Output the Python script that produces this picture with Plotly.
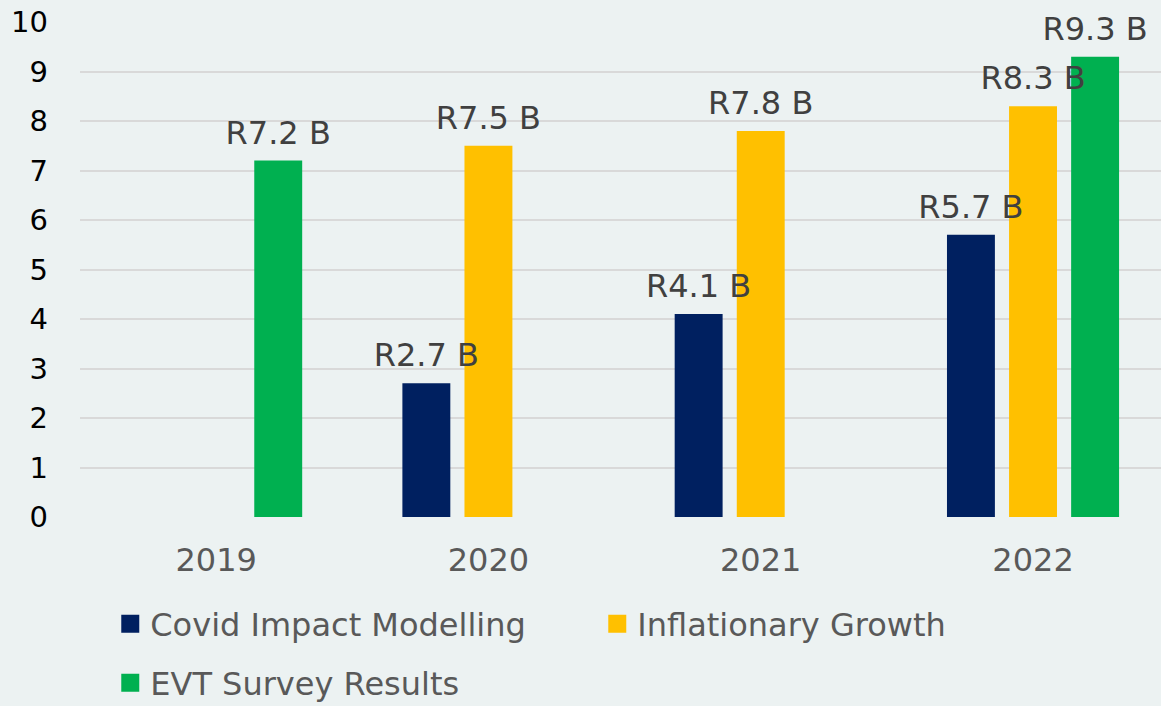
import plotly.graph_objects as go

years = ["2019", "2020", "2021", "2022"]
covid = [None, 2.7, 4.1, 5.7]
inflation = [None, 7.5, 7.8, 8.3]
evt = [7.2, None, None, 9.3]
series_names = ["Covid Impact Modelling", "Inflationary Growth", "EVT Survey Results"]
series_values = [covid, inflation, evt]
colors = ["#002060", "#FFC000", "#00B050"]
legend_ids = ["legend", "legend", "legend2"]
y_ticks = list(range(0, 11))

FONT = "Verdana, DejaVu Sans, sans-serif"
LABEL_LIFT = 0.12  # small visual gap between bar end and its data label

def labels(vals):
    return [f"R{v} B" if v is not None else "" for v in vals]

fig = go.Figure()
# bars
for i, (name, vals, col) in enumerate(zip(series_names, series_values, colors)):
    fig.add_trace(go.Bar(
        x=years, y=vals, name=name, offsetgroup=str(i), showlegend=False,
        marker=dict(color=col, line=dict(width=0)), hoverinfo="skip",
    ))
# data labels drawn on top of all bars
for i, vals in enumerate(series_values):
    fig.add_trace(go.Bar(
        x=years, y=vals, base=LABEL_LIFT, offsetgroup=str(i), showlegend=False,
        marker=dict(color="rgba(0,0,0,0)", line=dict(width=0)),
        text=labels(vals), textposition="outside", constraintext="none",
        cliponaxis=False, hoverinfo="skip",
        textfont=dict(family=FONT, size=32, color="#404040"),
    ))
# legend entries (square keys)
for i, (name, col) in enumerate(zip(series_names, colors)):
    fig.add_trace(go.Scatter(
        x=[None], y=[None], mode="markers", name=name, legend=legend_ids[i],
        marker=dict(symbol="square", size=16, color=col, line=dict(width=2, color=col)),
        hoverinfo="skip",
    ))

legend_common = dict(orientation="h", xanchor="left", yanchor="middle",
                     font=dict(family=FONT, size=32, color="#595959"),
                     bgcolor="rgba(0,0,0,0)", traceorder="normal", itemsizing="trace",
                     entrywidth=442, entrywidthmode="pixels")

fig.update_layout(
    width=1161, height=706,
    barmode="group", bargap=0.316, bargroupgap=0.228,
    paper_bgcolor="#ECF2F2", plot_bgcolor="#ECF2F2",
    margin=dict(l=80, r=0, t=22, b=189, autoexpand=False),
    font=dict(family=FONT, size=29, color="#595959"),
    showlegend=True,
    legend=dict(x=0.028, y=-0.216, **legend_common),
    legend2=dict(x=0.028, y=-0.335, **legend_common),
    xaxis=dict(type="category", range=[-0.5, 3.47], showgrid=False, zeroline=False,
               showline=False, ticks="", ticklabelstandoff=21,
               tickfont=dict(family=FONT, size=32, color="#595959")),
    yaxis=dict(range=[0, 10], tickvals=y_ticks, showgrid=True, gridcolor="#D9D9D9",
               gridwidth=2, zeroline=False, showline=False, ticks="",
               ticklabelstandoff=31,
               tickfont=dict(family=FONT, size=29, color="#000000")),
)

fig.write_html("out.html", config={"displayModeBar": False},
               post_script="document.body.style.margin='0px';document.body.style.overflow='hidden';")
